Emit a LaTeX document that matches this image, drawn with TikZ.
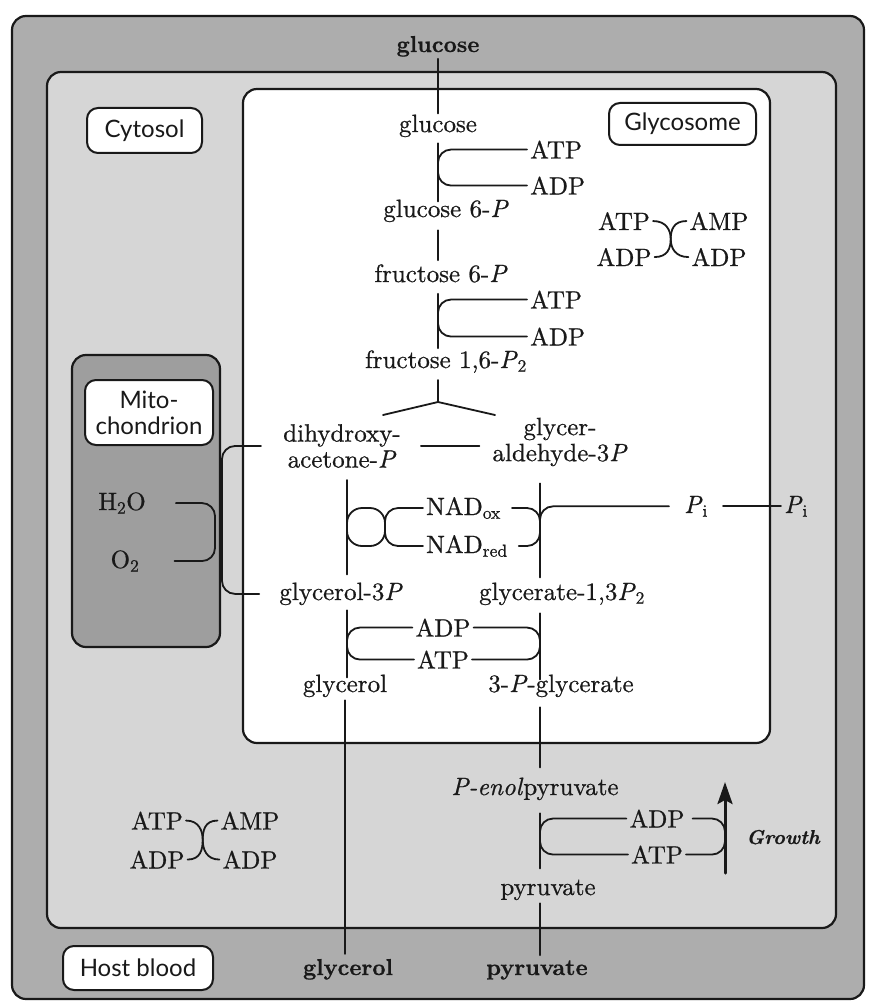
\documentclass[tikz,border=0pt]{standalone}
\usepackage{fontspec}
\newfontfamily\labelfont{Lato}
\newfontfamily\chemrm{lmroman10-regular.otf}[ItalicFont=lmroman10-italic.otf, BoldFont=lmroman10-bold.otf, BoldItalicFont=lmroman10-bolditalic.otf, FakeBold=0.7]
\usetikzlibrary{arrows.meta,calc}
\newcommand\chemsize{\fontsize{25}{26}\selectfont}
\newcommand\hostsize{\fontsize{23}{25}\selectfont}
\newcommand\lblsize{\fontsize{24}{26}\selectfont}
\newcommand\growthsize{\fontsize{20}{22}\selectfont}
\definecolor{hostgray}{gray}{0.68}
\definecolor{cytgray}{gray}{0.84}
\definecolor{mitogray}{gray}{0.62}
\definecolor{inkc}{gray}{0.1}
\newcommand\mkxconn[4]{%
  \coordinate (xc) at ($(#1.east)!0.5!(#4.west)$);
  \draw[spine] (#1.east) .. controls +(13,0) and +(0,-9) .. (xc) .. controls +(0,9) and +(13,0) .. (#3.east);
  \draw[spine] (#2.west) .. controls +(-13,0) and +(0,-9) .. (xc) .. controls +(0,9) and +(-13,0) .. (#4.west);}
\begin{document}
\begin{tikzpicture}[x=1pt,y=-1pt, line join=round, line cap=round,
  box/.style={draw=inkc, line width=2.2pt, rounded corners=14pt},
  lbl/.style={draw=inkc, fill=white, line width=2pt, rounded corners=11pt, font=\labelfont\lblsize, text=inkc, inner sep=0pt, align=center},
  chem/.style={font=\chemrm\chemsize, text=inkc, inner xsep=3pt, inner ysep=0pt, anchor=base},
  host/.style={chem, font=\chemrm\hostsize\bfseries},
  spine/.style={draw=inkc, line width=1.8pt},
  rxn/.style={spine, rounded corners=13pt}]
\useasboundingbox (0,0) rectangle (871,1003);
\fill[white] (0,0) rectangle (871,1003);
% compartments
\path[box, fill=hostgray] (12,16) rectangle (864,999);
\path[box, fill=cytgray] (47,72) rectangle (836,928);
\path[box, fill=white] (243,89) rectangle (770,743);
\path[box, fill=mitogray] (72,355) rectangle (220,647);
% compartment labels
\node[lbl, minimum width=115pt, minimum height=45pt] (cytlbl) at (144.5,130.5) {Cytosol};
\node[lbl, minimum width=147pt, minimum height=42pt] (glylbl) at (682.5,124) {Glycosome};
\node[lbl, minimum width=128pt, minimum height=65pt] (mitlbl) at (149,412.5) {Mito-\\chondrion};
\node[lbl, minimum width=150pt, minimum height=44pt] (hostlbl) at (138,968) {Host blood};
% metabolites
\node[host] (glcT) at (438,52) {glucose};
\node[chem] (glc) at (438,132) {glucose};
\node[chem, anchor=base west] (atp1) at (527,158.5) {ATP};
\node[chem, anchor=base west] (adp1) at (527,194.5) {ADP};
\node[chem] (g6p) at (446,217) {glucose 6-\textit{P}};
\node[chem] (f6p) at (441,282) {fructose 6-\textit{P}};
\node[chem, anchor=base west] (atp2) at (527,308.5) {ATP};
\node[chem, anchor=base west] (adp2) at (527,345.5) {ADP};
\node[chem] (fbp) at (446,368) {fructose 1,6-\textit{P}\textsubscript{2}};
\node[chem] (atp3) at (624,230) {ATP};
\node[chem] (amp3) at (719,230) {AMP};
\node[chem] (adp3) at (624,266) {ADP};
\node[chem] (adp3b) at (719,266) {ADP};
\node[chem, anchor=center, align=center] (dhap) at (342,446) {dihydroxy-\\acetone-\textit{P}};
\node[chem, anchor=center, align=center] (gap) at (560,442) {glycer-\\aldehyde-3\textit{P}};
\node[chem] (h2o) at (122,510) {H\textsubscript{2}O};
\node[chem] (o2) at (125,568) {O\textsubscript{2}};
\node[chem, anchor=base west] (nadox) at (423,515) {NAD\textsubscript{ox}};
\node[chem, anchor=base west] (nadred) at (423,553) {NAD\textsubscript{red}};
\node[chem] (pi1) at (696,513) {\textit{P}\textsubscript{i}};
\node[chem] (pi2) at (796,513) {\textit{P}\textsubscript{i}};
\node[chem] (g3p) at (341,600) {glycerol-3\textit{P}};
\node[chem] (bpg) at (562,600) {glycerate-1,3\textit{P}\textsubscript{2}};
\node[chem] (adp4) at (443,636.5) {ADP};
\node[chem] (atp4) at (443,668.5) {ATP};
\node[chem] (gly) at (345,692) {glycerol};
\node[chem] (pg3) at (561,692) {3-\textit{P}-glycerate};
\node[chem] (pep) at (535,795) {\textit{P-enol}pyruvate};
\node[chem] (adp5) at (657,827.5) {ADP};
\node[chem] (atp5) at (657,863.5) {ATP};
\node[chem] (pyr) at (548,895) {pyruvate};
\node[font=\chemrm\growthsize\bfseries\itshape, text=inkc, anchor=base] (growth) at (783,844) {Growth};
\node[chem] (atp6) at (157,829.5) {ATP};
\node[chem] (amp6) at (250,829.5) {AMP};
\node[chem] (adp6) at (157,868.5) {ADP};
\node[chem] (adp6b) at (250,868.5) {ADP};
\node[host] (glyH) at (348,975) {glycerol};
\node[host] (pyrH) at (537,975) {pyruvate};
% helper columns
\coordinate (cx) at (438,0);
\coordinate (lx) at (347,0);
\coordinate (lp) at (385,0);
\coordinate (rx) at (540,0);
\coordinate (bx) at (222,0);
\coordinate (hx) at (215,0);
% upper pathway
\draw[spine, shorten <=2pt, shorten >=1pt] (glcT.south) -- (glc.north);
\draw[spine, shorten <=6pt, shorten >=-2pt] (glc.south) -- (glc.south |- g6p.north);
\draw[rxn] (atp1.west) -- (atp1.west -| cx) -- (adp1.west -| cx) -- (adp1.west);
\draw[spine, shorten <=8pt, shorten >=4pt] (cx |- g6p.south) -- (cx |- f6p.north);
\draw[spine, shorten <=11pt, shorten >=2pt] (cx |- f6p.south) -- (cx |- fbp.north);
\draw[rxn] (atp2.west) -- (atp2.west -| cx) -- (adp2.west -| cx) -- (adp2.west);
\coordinate (fork) at (438,402);
\coordinate (forkL) at (383,415);
\coordinate (forkR) at (495,415);
\draw[spine, shorten <=7pt] (cx |- fbp.south) -- (fork);
\draw[spine, line join=miter] (forkL) -- (fork) -- (forkR);
\mkxconn{atp3}{amp3}{adp3}{adp3b}
% triose phosphates
\draw[spine, shorten <=17pt, shorten >=10pt] (dhap.east) -- (gap.west |- dhap.east);
\draw[rxn, shorten <=19pt, shorten >=17pt] (dhap.west) -- (dhap.west -| bx) -- (g3p.west -| bx) -- (g3p.west);
\draw[rxn, shorten <=27pt, shorten >=32pt] (h2o.east) -- (h2o.east -| hx) -- (o2.east -| hx) -- (o2.east);
% NAD couple
\draw[spine, shorten <=12pt, shorten >=8pt] (lx |- dhap.south) -- (lx |- g3p.north);
\draw[spine, rounded corners=15pt] (lx |- nadox.west) rectangle (lp |- nadred.west);
\draw[rxn] (nadox.west) -- (nadox.west -| lp) -- (nadred.west -| lp) -- (nadred.west);
\draw[spine, shorten <=17pt, shorten >=5pt] (rx |- gap.south) -- (rx |- bpg.north);
\draw[rxn, shorten <=8pt, shorten >=8pt] (nadox.east) -- (nadox.east -| rx) -- (nadred.east -| rx) -- (nadred.east);
\draw[rxn, shorten >=12pt] ($(rx |- nadox.west)+(0,18)$) -- (rx |- pi1.west) -- (pi1.west);
\draw[spine, shorten <=12pt] (pi1.east) -- (pi2.west);
% ATP-generating steps
\draw[spine, shorten <=5pt, shorten >=-3pt] (lx |- g3p.south) -- (lx |- gly.north);
\draw[rxn] (adp4.west) -- (adp4.west -| lx) -- (atp4.west -| lx) -- (atp4.west);
\draw[spine, shorten <=8pt, shorten >=-5pt] (rx |- bpg.south) -- (rx |- pg3.north);
\draw[rxn] (adp4.east) -- (adp4.east -| rx) -- (atp4.east -| rx) -- (atp4.east);
% exits
\draw[spine, shorten <=3pt, shorten >=5pt] (gly.south) -- (gly.south |- glyH.north);
\draw[spine, shorten <=10pt, shorten >=10pt] (rx |- pg3.south) -- (rx |- pep.north);
\draw[spine, shorten <=13pt, shorten >=11pt] (rx |- pep.south) -- (rx |- pyr.north);
\draw[rxn] (adp5.west) -- (adp5.west -| rx) -- (atp5.west -| rx) -- (atp5.west);
\coordinate (gA) at (725,873);
\coordinate (gB) at (725,782);
\draw[draw=inkc, line width=3pt, -{Stealth[length=22pt,width=15pt,inset=4pt]}] (gA) -- (gB);
\draw[rxn, shorten <=5pt] (adp5.east) -- (adp5.east -| gA) -- (atp5.east -| gA) -- (atp5.east);
\draw[spine, shorten <=3pt, shorten >=5pt] (rx |- pyr.south) -- (rx |- pyrH.north);
\mkxconn{atp6}{amp6}{adp6}{adp6b}
\end{tikzpicture}
\end{document}
